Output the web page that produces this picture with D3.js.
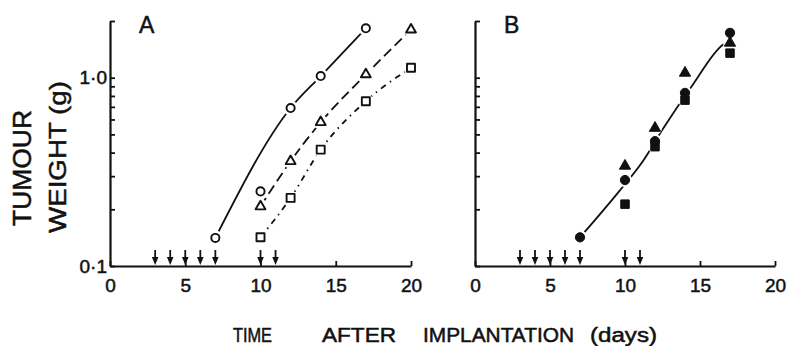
<!DOCTYPE html>
<html><head><meta charset="utf-8">
<script src="https://cdn.jsdelivr.net/npm/d3@7/dist/d3.min.js"></script>
<style>body{margin:0;background:#fff}svg{display:block}text{font-family:"Liberation Sans",Arial,sans-serif;fill:#111;stroke:#111;stroke-width:0.5px}</style>
</head><body><svg id="c" width="789" height="346"></svg>
<script>
// ---- data ----
const xTicks = [0, 5, 10, 15, 20];
const yTicks = [0.1, 0.2, 0.3, 0.4, 0.5, 0.6, 0.7, 0.8, 0.9, 1.0, 2.0];
const yTickLabels = {0.1: "0·1", 1: "1·0"};
const arrowDays = [3, 4, 5, 6, 7, 10, 11];

// Panel A (open symbols)
const aCircleDays = [7, 10, 12, 14, 17];
const aCircleVals = [0.141, 0.249, 0.69, 1.02, 1.83];
const aTriDays = [10, 12, 14, 17, 20];
const aTriVals = [0.207, 0.36, 0.58, 1.04, 1.8];
const aSqDays = [10, 12, 14, 17, 20];
const aSqVals = [0.142, 0.23, 0.415, 0.75, 1.13];
// fitted curve for circles (excludes day-10 point)
const aCircleFitDays = [7, 12, 14, 17];
const aCircleFitVals = [0.141, 0.69, 1.02, 1.83];

// Panel B (filled symbols)
const bCircleDays = [7, 10, 12, 14, 17];
const bCircleVals = [0.142, 0.286, 0.46, 0.83, 1.73];
const bTriDays = [10, 12, 14, 17];
const bTriVals = [0.34, 0.54, 1.06, 1.53];
const bSqDays = [10, 12, 14, 17];
const bSqVals = [0.213, 0.43, 0.76, 1.35];
const bFitDays = [7, 9.55, 11.2, 12.5, 14.45, 16.55, 17];
const bFitVals = [0.142, 0.246, 0.361, 0.53, 0.9, 1.5, 1.57];

const zip = (d, v) => d.map((x, i) => ({x, y: v[i]}));

const svg = d3.select("#c");
const y = d3.scaleLog().domain([0.1, 2]).range([266, 21]);

function panel(x0, x1, label, labelX, showYLabels) {
  const x = d3.scaleLinear().domain([0, 20]).range([x0, x1]);
  const g = svg.append("g");
  const ya = g.append("g").attr("transform", `translate(${x0},0)`)
    .call(d3.axisLeft(y).tickValues(yTicks).tickSize(-5).tickSizeOuter(0).tickPadding(3)
      .tickFormat(d => showYLabels ? (yTickLabels[d] || "") : ""));
  ya.select(".domain").attr("stroke", "#111").attr("stroke-width", 2.2);
  ya.selectAll(".tick line").attr("stroke", "#111").attr("stroke-width", 1.8);
  ya.selectAll(".tick text").attr("font-size", 19).attr("font-family", "Liberation Sans").attr("fill", "#111");
  const xa = g.append("g").attr("transform", `translate(0,${y(0.1)})`)
    .call(d3.axisBottom(x).tickValues(xTicks).tickSize(-5).tickSizeOuter(0).tickPadding(13));
  xa.select(".domain").attr("stroke", "#111").attr("stroke-width", 2.2);
  xa.selectAll(".tick line").attr("stroke", "#111").attr("stroke-width", 1.8);
  xa.selectAll(".tick text").attr("font-size", 19).attr("font-family", "Liberation Sans").attr("fill", "#111");
  g.append("text").attr("x", labelX).attr("y", 33).attr("font-size", 23).text(label);
  const base = y(0.1) - 1;
  arrowDays.forEach(d => {
    const ax = x(d);
    g.append("line").attr("x1", ax).attr("x2", ax).attr("y1", base - 15).attr("y2", base - 5)
      .attr("stroke", "#111").attr("stroke-width", 1.8);
    g.append("path").attr("d", `M${ax - 3.3},${base - 8}L${ax + 3.3},${base - 8}L${ax},${base}Z`)
      .attr("fill", "#111");
  });
  return {g, x};
}

const A = panel(110, 411, "A", 139, true);
const B = panel(475, 775, "B", 504, false);

function curve(p, pts, dash, w) {
  const line = d3.line().x(d => p.x(d.x)).y(d => y(d.y)).curve(d3.curveMonotoneX);
  p.g.append("path").attr("d", line(pts)).attr("fill", "none").attr("stroke", "#111")
    .attr("stroke-width", w || 1.8).attr("stroke-dasharray", dash || null);
}
const sym = (type, size) => d3.symbol().type(type).size(size)();

function halos(p, pts, r) {
  p.g.append("g").selectAll("circle").data(pts).join("circle")
    .attr("cx", d => p.x(d.x)).attr("cy", d => y(d.y)).attr("r", r).attr("fill", "#fff");
}
function drawMarkers(p, pts, type, size, filled) {
  p.g.append("g").selectAll("path").data(pts).join("path")
    .attr("transform", d => `translate(${p.x(d.x)},${y(d.y)})`)
    .attr("d", sym(type, size))
    .attr("fill", filled ? "#111" : "#fff").attr("stroke", "#111")
    .attr("stroke-width", filled ? 1 : 1.9).attr("stroke-linejoin", "round");
}

// Panel A
curve(A, zip(aCircleFitDays, aCircleFitVals), null);
curve(A, zip(aTriDays, aTriVals), "10,5");
curve(A, zip(aSqDays, aSqVals), "6,5,1.5,5");
[[aCircleDays, aCircleVals], [aTriDays, aTriVals], [aSqDays, aSqVals]].forEach(([d, v]) =>
  halos(A, zip(d, v), 7.5));
drawMarkers(A, zip(aCircleDays, aCircleVals), d3.symbolCircle, 52, false);
drawMarkers(A, zip(aTriDays, aTriVals), d3.symbolTriangle, 42, false);
drawMarkers(A, zip(aSqDays, aSqVals), d3.symbolSquare, 64, false);

// Panel B
curve(B, zip(bFitDays, bFitVals), null);
[[bCircleDays, bCircleVals], [bTriDays, bTriVals], [bSqDays, bSqVals]].forEach(([d, v]) =>
  halos(B, zip(d, v), 7));
drawMarkers(B, zip(bSqDays, bSqVals), d3.symbolSquare, 72, true);
drawMarkers(B, zip(bCircleDays, bCircleVals), d3.symbolCircle, 68, true);
drawMarkers(B, zip(bTriDays, bTriVals), d3.symbolTriangle, 55, true);

// y-axis title
svg.append("text").attr("transform", "translate(31,168) rotate(-90)").attr("text-anchor", "middle")
  .attr("font-size", 25).attr("textLength", 116).attr("lengthAdjust", "spacingAndGlyphs").text("TUMOUR");
svg.append("text").attr("transform", "translate(66,157) rotate(-90)").attr("text-anchor", "middle")
  .attr("font-size", 24).attr("textLength", 152).attr("lengthAdjust", "spacingAndGlyphs").text("WEIGHT (g)");

// x-axis title
const titleWords = [["TIME", 233, 39], ["AFTER", 322, 74], ["IMPLANTATION", 423, 151], ["(days)", 590, 67]];
titleWords.forEach(([t, x, w]) =>
  svg.append("text").attr("x", x).attr("y", 342).attr("font-size", 20)
    .attr("textLength", w).attr("lengthAdjust", "spacingAndGlyphs").text(t));
</script></body></html>
